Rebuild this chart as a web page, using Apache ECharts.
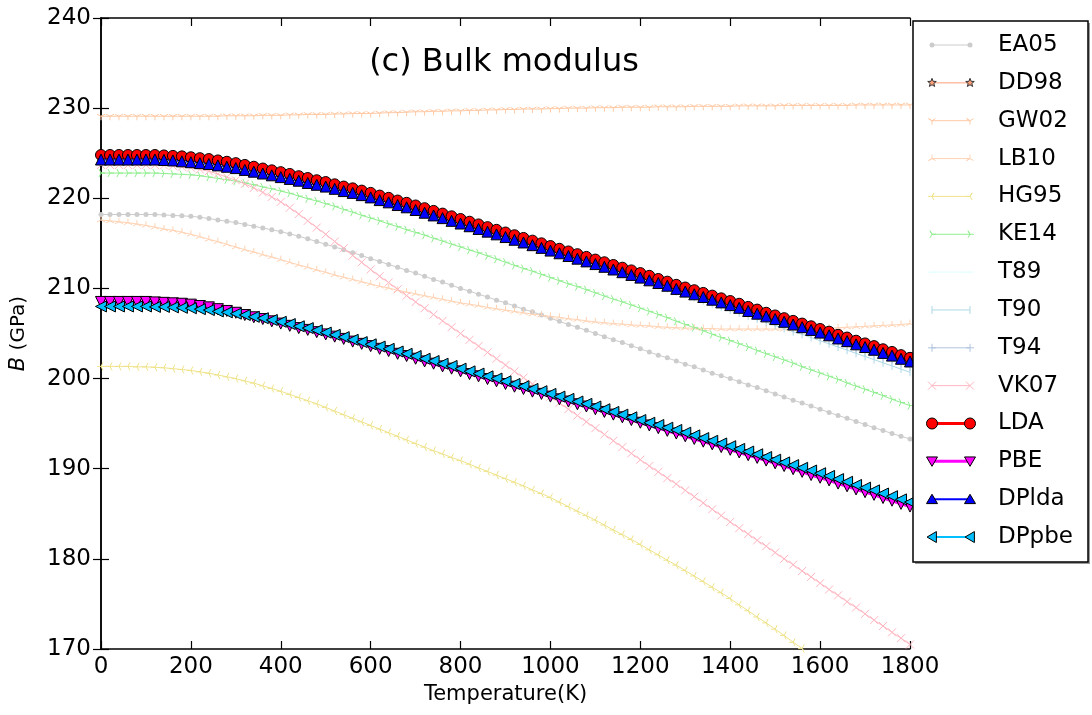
<!DOCTYPE html>
<html>
<head>
<meta charset="utf-8">
<script src="https://cdn.jsdelivr.net/npm/echarts@6/dist/echarts.min.js"></script>
<style>
html, body { margin: 0; padding: 0; background: #fff; }
#chart { width: 1092px; height: 715px; }
</style>
</head>
<body>
<div id="chart"></div>
<script>
// Temperature grid (K)
const temperature = [0,20,40,60,80,100,120,140,160,180,200,220,240,260,280,300,320,340,360,380,
  400,420,440,460,480,500,520,540,560,580,600,620,640,660,680,700,720,740,760,780,
  800,820,840,860,880,900,920,940,960,980,1000,1020,1040,1060,1080,1100,1120,1140,1160,1180,
  1200,1220,1240,1260,1280,1300,1320,1340,1360,1380,1400,1420,1440,1460,1480,1500,1520,1540,1560,1580,
  1600,1620,1640,1660,1680,1700,1720,1740,1760,1780,1800];

// Bulk modulus B (GPa) for each data set
const EA05 = [218.2,218.2,218.2,218.2,218.2,218.2,218.2,218.15,218.1,218.05,
  218.0,217.9,217.75,217.6,217.45,217.3,217.1,216.9,216.7,216.5,
  216.3,216.05,215.8,215.5,215.2,214.9,214.6,214.3,213.95,213.65,
  213.3,213.0,212.65,212.35,212.0,211.7,211.35,211.0,210.7,210.35,
  210.0,209.7,209.35,209.05,208.7,208.4,208.05,207.7,207.4,207.05,
  206.7,206.35,206.0,205.7,205.35,205.0,204.65,204.3,204.0,203.65,
  203.3,202.95,202.6,202.3,201.95,201.6,201.3,200.95,200.6,200.3,
  200.0,199.65,199.3,199.0,198.65,198.3,197.95,197.6,197.3,196.95,
  196.6,196.25,195.9,195.6,195.25,194.9,194.55,194.25,193.9,193.6,
  193.3];
const DD98 = [224.7,224.7,224.7,224.7,224.7,224.7,224.7,224.65,224.6,224.55,
  224.45,224.35,224.25,224.1,223.95,223.8,223.6,223.4,223.2,223.0,
  222.8,222.6,222.35,222.15,221.9,221.7,221.45,221.2,221.0,220.75,
  220.5,220.2,219.95,219.65,219.4,219.1,218.8,218.5,218.2,217.9,
  217.6,217.3,217.0,216.7,216.4,216.1,215.8,215.5,215.2,214.9,
  214.6,214.3,214.0,213.7,213.4,213.1,212.8,212.5,212.2,211.9,
  211.6,211.3,210.95,210.65,210.3,210.0,209.7,209.4,209.1,208.8,
  208.5,208.2,207.85,207.55,207.2,206.9,206.6,206.3,206.0,205.7,
  205.4,205.1,204.75,204.45,204.1,203.8,203.5,203.15,202.85,202.5,
  202.2];
const GW02 = [229.1,229.1,229.1,229.1,229.1,229.1,229.1,229.1,229.1,229.1,
  229.1,229.1,229.1,229.1,229.15,229.15,229.15,229.15,229.2,229.2,
  229.2,229.25,229.25,229.3,229.3,229.3,229.35,229.35,229.4,229.4,
  229.4,229.45,229.5,229.5,229.55,229.6,229.6,229.65,229.65,229.7,
  229.7,229.75,229.75,229.8,229.8,229.85,229.85,229.9,229.9,229.9,
  229.95,229.95,230.0,230.0,230.0,230.05,230.05,230.05,230.1,230.1,
  230.1,230.1,230.15,230.15,230.15,230.15,230.2,230.2,230.2,230.2,
  230.2,230.25,230.25,230.25,230.25,230.25,230.3,230.3,230.3,230.3,
  230.3,230.3,230.3,230.3,230.35,230.35,230.35,230.35,230.35,230.35,
  230.35];
const LB10 = [217.6,217.5,217.4,217.3,217.15,217.0,216.8,216.6,216.45,216.25,
  216.0,215.75,215.45,215.2,214.9,214.6,214.3,214.05,213.75,213.5,
  213.2,212.9,212.6,212.35,212.05,211.8,211.5,211.25,211.0,210.75,
  210.5,210.25,210.05,209.8,209.6,209.4,209.2,209.0,208.8,208.6,
  208.4,208.25,208.1,207.9,207.75,207.6,207.45,207.3,207.15,207.05,
  206.9,206.8,206.65,206.55,206.4,206.3,206.2,206.1,206.05,205.95,
  205.9,205.85,205.75,205.7,205.65,205.6,205.6,205.55,205.55,205.5,
  205.5,205.5,205.5,205.5,205.5,205.5,205.5,205.5,205.55,205.55,
  205.6,205.6,205.65,205.7,205.75,205.8,205.85,205.9,205.95,206.0,
  206.1];
const HG95 = [201.35,201.35,201.35,201.35,201.3,201.3,201.25,201.2,201.1,201.0,
  200.9,200.75,200.6,200.4,200.2,200.0,199.75,199.5,199.2,198.9,
  198.6,198.25,197.9,197.55,197.2,196.8,196.4,196.0,195.6,195.2,
  194.8,194.4,194.0,193.6,193.2,192.8,192.4,192.0,191.65,191.25,
  190.9,190.5,190.1,189.7,189.3,188.9,188.5,188.1,187.65,187.25,
  186.8,186.3,185.8,185.3,184.8,184.3,183.75,183.2,182.7,182.15,
  181.6,181.0,180.45,179.85,179.3,178.7,178.1,177.5,176.85,176.25,
  175.6,174.9,174.25,173.55,172.9,172.2,171.5,170.75,170.05,169.3,
  168.6,167.85,167.1,166.35,165.55,164.8,164.0,163.2,162.4,161.6,
  160.8];
const KE14 = [222.8,222.8,222.8,222.8,222.8,222.8,222.8,222.75,222.7,222.65,
  222.6,222.5,222.35,222.2,222.05,221.9,221.7,221.5,221.25,221.05,
  220.8,220.55,220.25,219.95,219.7,219.4,219.1,218.75,218.45,218.1,
  217.8,217.5,217.15,216.85,216.5,216.2,215.9,215.55,215.25,214.9,
  214.6,214.25,213.95,213.6,213.25,212.9,212.55,212.2,211.9,211.55,
  211.2,210.85,210.5,210.2,209.85,209.5,209.15,208.8,208.5,208.15,
  207.8,207.45,207.1,206.75,206.35,206.0,205.65,205.3,204.9,204.55,
  204.2,203.85,203.5,203.1,202.75,202.4,202.05,201.7,201.3,200.95,
  200.6,200.25,199.9,199.5,199.15,198.8,198.45,198.1,197.7,197.35,
  197.0];
const T89 = [224.3,224.3,224.3,224.3,224.3,224.3,224.3,224.2,224.15,224.05,
  223.95,223.85,223.75,223.6,223.45,223.3,223.1,222.9,222.7,222.5,
  222.3,222.1,221.9,221.65,221.45,221.25,221.0,220.75,220.55,220.3,
  220.05,219.75,219.5,219.2,218.95,218.65,218.35,218.05,217.75,217.45,
  217.15,216.85,216.55,216.25,215.95,215.65,215.35,215.05,214.75,214.45,
  214.15,213.85,213.55,213.25,212.95,212.65,212.35,212.05,211.75,211.45,
  211.15,210.85,210.55,210.25,209.9,209.6,209.3,209.0,208.7,208.4,
  208.1,207.8,207.45,207.15,206.85,206.55,206.25,205.95,205.65,205.35,
  205.05,204.75,204.4,204.1,203.75,203.45,203.15,202.8,202.5,202.15,
  201.85];
const T90 = [224.2,224.2,224.2,224.2,224.2,224.2,224.2,224.15,224.1,224.0,
  223.9,223.8,223.7,223.55,223.4,223.25,223.05,222.85,222.65,222.45,
  222.25,222.05,221.85,221.6,221.4,221.2,220.95,220.7,220.5,220.25,
  220.0,219.7,219.45,219.15,218.9,218.6,218.3,218.0,217.7,217.4,
  217.1,216.8,216.5,216.2,215.9,215.6,215.3,215.0,214.7,214.4,
  214.1,213.8,213.5,213.2,212.9,212.55,212.25,211.95,211.6,211.3,
  211.0,210.7,210.35,210.0,209.65,209.35,209.0,208.65,208.3,207.95,
  207.6,207.3,206.95,206.6,206.25,205.9,205.55,205.2,204.9,204.55,
  204.2,203.85,203.5,203.15,202.8,202.45,202.1,201.75,201.4,201.05,
  200.7];
const T94 = [224.25,224.25,224.25,224.25,224.25,224.25,224.25,224.2,224.15,224.05,
  223.95,223.85,223.75,223.6,223.45,223.3,223.1,222.9,222.7,222.5,
  222.3,222.1,221.9,221.65,221.45,221.25,221.0,220.75,220.55,220.3,
  220.05,219.75,219.5,219.2,218.95,218.65,218.35,218.05,217.75,217.45,
  217.15,216.85,216.55,216.25,215.95,215.65,215.35,215.05,214.75,214.45,
  214.15,213.85,213.55,213.25,212.95,212.6,212.3,212.0,211.7,211.4,
  211.1,210.8,210.45,210.1,209.8,209.45,209.15,208.8,208.5,208.15,
  207.85,207.5,207.2,206.85,206.55,206.2,205.9,205.55,205.25,204.9,
  204.6,204.25,203.95,203.6,203.3,202.95,202.65,202.3,202.0,201.65,
  201.3];
const VK07 = [223.7,223.7,223.7,223.7,223.7,223.7,223.7,223.65,223.6,223.5,
  223.4,223.2,223.0,222.7,222.35,222.0,221.6,221.15,220.65,220.15,
  219.6,218.95,218.25,217.5,216.75,216.0,215.2,214.45,213.65,212.9,
  212.1,211.35,210.65,209.9,209.2,208.5,207.8,207.1,206.4,205.7,
  205.0,204.3,203.6,202.9,202.2,201.5,200.8,200.1,199.4,198.7,
  198.0,197.3,196.6,195.9,195.2,194.5,193.8,193.1,192.4,191.7,
  191.0,190.3,189.65,188.95,188.3,187.6,186.9,186.2,185.5,184.8,
  184.1,183.4,182.75,182.05,181.4,180.7,180.0,179.35,178.65,178.0,
  177.3,176.6,175.95,175.25,174.6,173.9,173.2,172.55,171.85,171.2,
  170.5];
const LDA = [224.8,224.8,224.8,224.8,224.8,224.8,224.8,224.75,224.7,224.65,
  224.55,224.45,224.35,224.2,224.05,223.9,223.7,223.5,223.3,223.1,
  222.9,222.7,222.45,222.25,222.0,221.8,221.55,221.3,221.1,220.85,
  220.6,220.3,220.05,219.75,219.5,219.2,218.9,218.6,218.3,218.0,
  217.7,217.4,217.1,216.8,216.5,216.2,215.9,215.6,215.3,215.0,
  214.7,214.4,214.1,213.8,213.5,213.2,212.9,212.6,212.3,212.0,
  211.7,211.4,211.05,210.75,210.4,210.1,209.8,209.5,209.2,208.9,
  208.6,208.3,207.95,207.65,207.3,207.0,206.7,206.4,206.1,205.8,
  205.5,205.2,204.85,204.55,204.2,203.9,203.6,203.25,202.95,202.6,
  202.3];
const PBE = [208.5,208.5,208.5,208.5,208.5,208.5,208.45,208.4,208.35,208.3,
  208.2,208.05,207.9,207.7,207.5,207.3,207.05,206.8,206.6,206.35,
  206.1,205.85,205.6,205.4,205.15,204.9,204.65,204.4,204.1,203.85,
  203.6,203.3,203.05,202.75,202.5,202.2,201.9,201.65,201.35,201.1,
  200.8,200.5,200.25,199.95,199.7,199.4,199.1,198.85,198.55,198.3,
  198.0,197.7,197.45,197.15,196.9,196.6,196.3,196.0,195.7,195.4,
  195.1,194.8,194.5,194.2,193.9,193.6,193.3,193.0,192.7,192.4,
  192.1,191.8,191.5,191.2,190.9,190.6,190.3,189.95,189.65,189.3,
  189.0,188.7,188.35,188.05,187.7,187.4,187.1,186.75,186.45,186.1,
  185.8];
const DPlda = [224.3,224.3,224.3,224.3,224.3,224.3,224.3,224.25,224.2,224.1,
  224.0,223.9,223.8,223.65,223.5,223.35,223.15,222.95,222.75,222.55,
  222.35,222.15,221.95,221.7,221.5,221.3,221.05,220.8,220.6,220.35,
  220.1,219.8,219.55,219.25,219.0,218.7,218.4,218.1,217.8,217.5,
  217.2,216.9,216.6,216.3,216.0,215.7,215.4,215.1,214.8,214.5,
  214.2,213.9,213.6,213.3,213.0,212.7,212.4,212.1,211.8,211.5,
  211.2,210.9,210.6,210.3,209.95,209.65,209.35,209.05,208.75,208.45,
  208.15,207.85,207.5,207.2,206.9,206.6,206.3,206.0,205.7,205.4,
  205.1,204.8,204.45,204.15,203.8,203.5,203.2,202.85,202.55,202.2,
  201.9];
const DPpbe = [208.0,208.0,208.0,208.0,208.0,208.0,207.95,207.95,207.9,207.85,
  207.8,207.7,207.6,207.45,207.35,207.2,207.05,206.85,206.7,206.5,
  206.3,206.05,205.8,205.6,205.35,205.1,204.85,204.6,204.3,204.05,
  203.8,203.55,203.3,203.0,202.75,202.5,202.2,201.95,201.65,201.4,
  201.1,200.8,200.55,200.25,200.0,199.7,199.4,199.15,198.85,198.6,
  198.3,198.0,197.75,197.45,197.2,196.9,196.6,196.3,196.0,195.7,
  195.4,195.1,194.85,194.55,194.3,194.0,193.7,193.4,193.1,192.8,
  192.5,192.2,191.9,191.6,191.3,191.0,190.7,190.4,190.1,189.8,
  189.5,189.2,188.85,188.55,188.2,187.9,187.6,187.25,186.95,186.6,
  186.3];

// Axis ticks
const xTicks = { min: 0, max: 1800, step: 200 };
const yTicks = { min: 170, max: 240, step: 10 };

// Drawing style of each data set (kept apart from the values)
const styles = [
  { name: 'EA05',  data: EA05,  color: '#cccccc', width: 1,   marker: 'dot',   size: 5 },
  { name: 'DD98',  data: DD98,  color: '#ffa07a', width: 1,   marker: 'star',  size: 9,  edge: '#333333' },
  { name: 'GW02',  data: GW02,  color: '#ffcaa5', width: 1,   marker: 'tri1',  size: 8 },
  { name: 'LB10',  data: LB10,  color: '#ffd3b4', width: 1,   marker: 'tri2',  size: 8 },
  { name: 'HG95',  data: HG95,  color: '#efe38a', width: 1,   marker: 'tri3',  size: 8 },
  { name: 'KE14',  data: KE14,  color: '#90ee90', width: 1,   marker: 'tri4',  size: 8 },
  { name: 'T89',   data: T89,   color: '#e0ffff', width: 1,   marker: 'hline', size: 8 },
  { name: 'T90',   data: T90,   color: '#add8e6', width: 1,   marker: 'vline', size: 8 },
  { name: 'T94',   data: T94,   color: '#b0c4de', width: 1,   marker: 'plus',  size: 8 },
  { name: 'VK07',  data: VK07,  color: '#ffb6c1', width: 1,   marker: 'x',     size: 8 },
  { name: 'LDA',   data: LDA,   color: '#ff0000', width: 3,   marker: 'circle', size: 11, edge: '#000000' },
  { name: 'PBE',   data: PBE,   color: '#ff00ff', width: 3,   marker: 'tdown', size: 11, edge: '#000000' },
  { name: 'DPlda', data: DPlda, color: '#0000ff', width: 2,   marker: 'tup',   size: 11, edge: '#000000' },
  { name: 'DPpbe', data: DPpbe, color: '#00bfff', width: 2,   marker: 'tleft', size: 11, edge: '#000000' }
];

const FONT = 'DejaVu Sans';

function starPoints(cx, cy, r) {
  const pts = [];
  for (let k = 0; k < 10; k++) {
    const a = -Math.PI / 2 + k * Math.PI / 5;
    const rr = k % 2 === 0 ? r : r * 0.42;
    pts.push([cx + rr * Math.cos(a), cy + rr * Math.sin(a)]);
  }
  return pts;
}
const starPath = 'path://' + starPoints(5, 5, 5).map((p, k) => (k ? 'L' : 'M') + p[0].toFixed(2) + ',' + p[1].toFixed(2)).join('') + 'Z';

// Symbols used on the plot
const symbolOf = {
  dot: 'circle',
  circle: 'circle',
  star: starPath,
  tdown: 'path://M0,0L10,0L5,8.66Z',
  tup: 'path://M5,0L10,8.66L0,8.66Z',
  tleft: 'path://M0,5L8.66,0L8.66,10Z',
  tri1: 'path://M5,5L5,10M5,5L0.67,2.5M5,5L9.33,2.5M5,0L5,0.01',
  tri2: 'path://M5,5L5,0M5,5L0.67,7.5M5,5L9.33,7.5M5,10L5,9.99',
  tri3: 'path://M5,5L0,5M5,5L7.5,0.67M5,5L7.5,9.33M10,5L9.99,5',
  tri4: 'path://M5,5L10,5M5,5L2.5,0.67M5,5L2.5,9.33M0,5L0.01,5',
  x: 'path://M0,0L10,10M10,0L0,10',
  plus: 'path://M5,0L5,10M0,5L10,5',
  vline: 'path://M5,0L5,10M0,5L0.01,5M10,5L9.99,5',
  hline: 'path://M0,5L10,5M5,0L5,0.01M5,10L5,9.99'
};
const filled = { dot: true, circle: true, star: true, tdown: true, tup: true, tleft: true };

const series = styles.map(s => {
  const isFilled = !!filled[s.marker];
  return {
    name: s.name,
    type: 'line',
    data: temperature.map((t, i) => [t, s.data[i]]),
    xAxisIndex: 0,
    yAxisIndex: 0,
    symbol: symbolOf[s.marker],
    symbolSize: s.size,
    showSymbol: true,
    clip: true,
    silent: true,
    animation: false,
    lineStyle: { color: s.color, width: s.width },
    itemStyle: {
      color: s.color,
      borderColor: isFilled ? (s.edge || s.color) : s.color,
      borderWidth: isFilled ? (s.edge ? 1 : 0) : 1,
      opacity: 1
    },
    emphasis: { disabled: true }
  };
});

// Legend markers drawn as graphic shapes (two per entry, like the plot markers)
function legendMarker(s, cx, cy) {
  const h = s.size / 2;
  const stroke = { stroke: s.color, lineWidth: 1, fill: null };
  const solid = { fill: s.color, stroke: s.edge || s.color, lineWidth: s.edge ? 1 : 0 };
  switch (s.marker) {
    case 'dot':
    case 'circle':
      return [{ type: 'circle', shape: { cx, cy, r: h }, style: solid }];
    case 'star':
      return [{ type: 'polygon', shape: { points: starPoints(cx, cy, h) }, style: solid }];
    case 'tdown':
      return [{ type: 'polygon', shape: { points: [[cx - h, cy - h * 0.8], [cx + h, cy - h * 0.8], [cx, cy + h * 0.9]] }, style: solid }];
    case 'tup':
      return [{ type: 'polygon', shape: { points: [[cx, cy - h * 0.9], [cx + h, cy + h * 0.8], [cx - h, cy + h * 0.8]] }, style: solid }];
    case 'tleft':
      return [{ type: 'polygon', shape: { points: [[cx - h * 0.9, cy], [cx + h * 0.8, cy - h], [cx + h * 0.8, cy + h]] }, style: solid }];
    case 'tri1':
      return [{ type: 'polyline', shape: { points: [[cx, cy + h], [cx, cy], [cx - h * 0.87, cy - h * 0.5], [cx, cy], [cx + h * 0.87, cy - h * 0.5]] }, style: stroke }];
    case 'tri2':
      return [{ type: 'polyline', shape: { points: [[cx, cy - h], [cx, cy], [cx - h * 0.87, cy + h * 0.5], [cx, cy], [cx + h * 0.87, cy + h * 0.5]] }, style: stroke }];
    case 'tri3':
      return [{ type: 'polyline', shape: { points: [[cx - h, cy], [cx, cy], [cx + h * 0.5, cy - h * 0.87], [cx, cy], [cx + h * 0.5, cy + h * 0.87]] }, style: stroke }];
    case 'tri4':
      return [{ type: 'polyline', shape: { points: [[cx + h, cy], [cx, cy], [cx - h * 0.5, cy - h * 0.87], [cx, cy], [cx - h * 0.5, cy + h * 0.87]] }, style: stroke }];
    case 'x':
      return [
        { type: 'line', shape: { x1: cx - h, y1: cy - h, x2: cx + h, y2: cy + h }, style: stroke },
        { type: 'line', shape: { x1: cx + h, y1: cy - h, x2: cx - h, y2: cy + h }, style: stroke }
      ];
    case 'plus':
      return [
        { type: 'line', shape: { x1: cx, y1: cy - h, x2: cx, y2: cy + h }, style: stroke },
        { type: 'line', shape: { x1: cx - h, y1: cy, x2: cx + h, y2: cy }, style: stroke }
      ];
    case 'vline':
      return [{ type: 'line', shape: { x1: cx, y1: cy - h, x2: cx, y2: cy + h }, style: stroke }];
    case 'hline':
      return [{ type: 'line', shape: { x1: cx - h, y1: cy, x2: cx + h, y2: cy }, style: stroke }];
  }
  return [];
}

const legendBox = { x: 913, y: 21, w: 175, h: 541 };
const legendRow0 = 45, legendRowGap = 37.85, legendX1 = 932, legendX2 = 970, legendTextX = 998;

const graphics = [
  { type: 'rect', shape: { x: legendBox.x + 2, y: legendBox.y + 2, width: legendBox.w, height: legendBox.h }, style: { fill: '#9a9a9a' }, z: 10 },
  { type: 'rect', shape: { x: legendBox.x, y: legendBox.y, width: legendBox.w, height: legendBox.h }, style: { fill: '#ffffff', stroke: '#000000', lineWidth: 1.5 }, z: 11 },
  { type: 'text', x: 504, y: 63, z: 12, style: { text: '(c) Bulk modulus', font: '32px "DejaVu Sans"', fill: '#000', textAlign: 'center', textVerticalAlign: 'middle' } }
];
styles.forEach((s, i) => {
  const cy = legendRow0 + i * legendRowGap;
  graphics.push({ type: 'line', z: 12, shape: { x1: legendX1, y1: cy, x2: legendX2, y2: cy }, style: { stroke: s.color, lineWidth: s.width } });
  [legendX1, legendX2].forEach(cx => {
    legendMarker(s, cx, cy).forEach(el => { el.z = 13; graphics.push(el); });
  });
  graphics.push({ type: 'text', z: 13, x: legendTextX, y: cy, style: { text: s.name, font: '23px "DejaVu Sans"', fill: '#000', textVerticalAlign: 'middle' } });
});

const frameLine = { show: true, lineStyle: { color: '#000', width: 1.5 } };
const inTick = { show: true, inside: true, length: 8, lineStyle: { color: '#000', width: 1.2 } };
const plainNumber = v => String(v);

const option = {
  animation: false,
  backgroundColor: '#ffffff',
  grid: { left: 100, top: 18, width: 810, height: 631, containLabel: false },
  xAxis: [
    {
      type: 'value', position: 'bottom', min: xTicks.min, max: xTicks.max, interval: xTicks.step,
      axisLine: frameLine, axisTick: inTick, splitLine: { show: false },
      axisLabel: { fontSize: 23, color: '#000', fontFamily: FONT, margin: 7, formatter: plainNumber },
      name: 'Temperature(K)', nameLocation: 'middle', nameGap: 34,
      nameTextStyle: { fontSize: 21, color: '#000', fontFamily: FONT }
    },
    {
      type: 'value', position: 'top', min: xTicks.min, max: xTicks.max, interval: xTicks.step,
      axisLine: frameLine, axisTick: inTick, splitLine: { show: false }, axisLabel: { show: false }
    }
  ],
  yAxis: [
    {
      type: 'value', position: 'left', min: yTicks.min, max: yTicks.max, interval: yTicks.step,
      axisLine: frameLine, axisTick: inTick, splitLine: { show: false },
      axisLabel: { fontSize: 23, color: '#000', fontFamily: FONT, margin: 10, formatter: plainNumber },
      name: '{i|B} (GPa)', nameLocation: 'middle', nameGap: 72, nameRotate: 90,
      nameTextStyle: { fontSize: 20, color: '#000', fontFamily: FONT,
        rich: { i: { fontSize: 21, fontStyle: 'italic', fontFamily: FONT, color: '#000' } } }
    },
    {
      type: 'value', position: 'right', min: yTicks.min, max: yTicks.max, interval: yTicks.step,
      axisLine: frameLine, axisTick: inTick, splitLine: { show: false }, axisLabel: { show: false }
    }
  ],
  series: series,
  graphic: graphics
};

const chart = echarts.init(document.getElementById('chart'), null, { renderer: 'canvas' });
chart.setOption(option);
</script>
</body>
</html>
